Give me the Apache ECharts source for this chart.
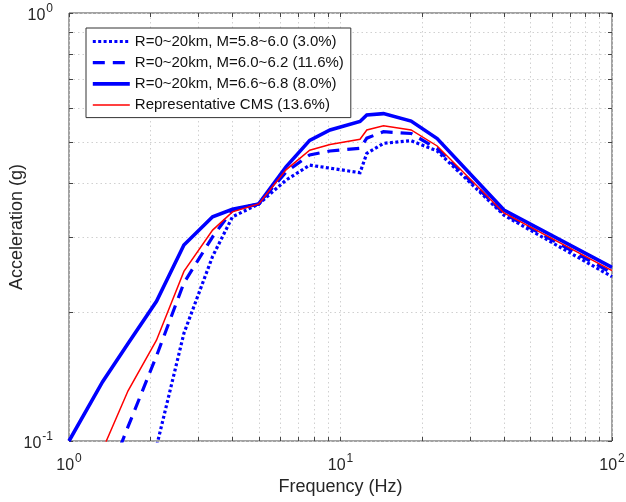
<!DOCTYPE html>
<html>
<head>
<meta charset="utf-8">
<script src="https://cdn.jsdelivr.net/npm/echarts@6/dist/echarts.min.js"></script>
<style>
  html, body { margin: 0; padding: 0; background: #fff; }
  #chart { width: 626px; height: 502px; }
</style>
</head>
<body>
<div id="chart"></div>
<script>
// Frequency (Hz) of each spectral ordinate
const frequency = [1.0, 1.33, 1.65, 2.1, 2.65, 3.38, 4.0, 5.0, 6.3, 7.7, 9.15, 11.8, 12.5, 14.4, 18.2, 22.7, 40, 100];

// Spectral acceleration (g) per magnitude bin, R = 0~20 km
const accM58 = [0.022, 0.035, 0.052, 0.097, 0.1785, 0.270, 0.334, 0.358, 0.407, 0.441, 0.434, 0.4235, 0.470, 0.496, 0.503, 0.476, 0.337, 0.242];
const accM60 = [0.048, 0.0765, 0.108, 0.158, 0.234, 0.300, 0.3465, 0.358, 0.425, 0.466, 0.476, 0.483, 0.510, 0.528, 0.523, 0.482, 0.340, 0.247];
const accM66 = [0.100, 0.1376, 0.169, 0.212, 0.287, 0.334, 0.348, 0.358, 0.437, 0.504, 0.533, 0.558, 0.578, 0.582, 0.559, 0.509, 0.3465, 0.2546];
const accCMS = [0.066, 0.0955, 0.131, 0.172, 0.249, 0.311, 0.343, 0.358, 0.430, 0.478, 0.493, 0.507, 0.533, 0.545, 0.533, 0.489, 0.341, 0.250];

const seriesNames = [
  'R=0~20km, M=5.8~6.0 (3.0%)',
  'R=0~20km, M=6.0~6.2 (11.6%)',
  'R=0~20km, M=6.6~6.8 (8.0%)',
  'Representative CMS (13.6%)'
];

// Tick positions (major + minor decades) and labelled decades
const xTickValues = [1, 2, 3, 4, 5, 6, 7, 8, 9, 10, 20, 30, 40, 50, 60, 70, 80, 90, 100];
const yTickValues = [0.1, 0.2, 0.3, 0.4, 0.5, 0.6, 0.7, 0.8, 0.9, 1];
const xLabelValues = [1, 10, 100];
const yLabelValues = [0.1, 1];

const FONT = "'Liberation Sans', Arial, sans-serif";
const TEXT_COLOR = '#262626';
const AXIS_COLOR = '#444';

function pairs(ys) {
  return frequency.map((f, i) => [f, ys[i]]);
}

// "10" with the decade exponent raised as a superscript
function powerLabel(v) {
  const e = Math.round(Math.log10(v));
  return '{b|10}{e|' + e + '}';
}

const labelRich = {
  b: { fontSize: 16, fontFamily: FONT, color: TEXT_COLOR, lineHeight: 21, verticalAlign: 'bottom' },
  e: { fontSize: 12, fontFamily: FONT, color: TEXT_COLOR, verticalAlign: 'top', padding: [0, 0, 0, 1] }
};

const gridLine = { show: true, lineStyle: { color: '#d0d0d0', width: 1, type: [1.5, 3] } };

function logXAxis(position, withLabels) {
  return {
    type: 'log', logBase: 10, min: 1, max: 100, position: position,
    name: withLabels ? 'Frequency (Hz)' : '',
    nameLocation: 'middle', nameGap: 37, nameMoveOverlap: false,
    nameTextStyle: { fontSize: 18, fontFamily: FONT, color: TEXT_COLOR },
    axisLine: { show: false },
    axisTick: { show: true, inside: true, length: 4, customValues: xTickValues, lineStyle: { color: AXIS_COLOR } },
    axisLabel: withLabels
      ? { show: true, customValues: xLabelValues, formatter: powerLabel, rich: labelRich, margin: 12 }
      : { show: false },
    splitLine: withLabels ? gridLine : { show: false }
  };
}

function logYAxis(position, withLabels) {
  return {
    type: 'log', logBase: 10, min: 0.1, max: 1, position: position,
    name: withLabels ? 'Acceleration (g)' : '',
    nameLocation: 'middle', nameGap: 43, nameMoveOverlap: false,
    nameTextStyle: { fontSize: 18, fontFamily: FONT, color: TEXT_COLOR },
    axisLine: { show: false },
    axisTick: { show: true, inside: true, length: 4, customValues: yTickValues, lineStyle: { color: AXIS_COLOR } },
    axisLabel: withLabels
      ? { show: true, customValues: yLabelValues, formatter: powerLabel, rich: labelRich, margin: 16, align: 'right' }
      : { show: false },
    splitLine: withLabels ? gridLine : { show: false }
  };
}

const styles = [
  { color: '#0000ff', width: 3.2, type: [3, 2.4] },
  { color: '#0000ff', width: 3.2, type: [12, 8] },
  { color: '#0000ff', width: 3.6, type: 'solid' },
  { color: '#ff0000', width: 1.5, type: 'solid' }
];
const values = [accM58, accM60, accM66, accCMS];

const chart = echarts.init(document.getElementById('chart'), null, { renderer: 'canvas' });
chart.setOption({
  backgroundColor: '#fff',
  animation: false,
  grid: {
    left: 69, right: 14, top: 13, bottom: 61,
    outerBoundsMode: 'none', containLabel: false,
    show: true, borderColor: AXIS_COLOR, borderWidth: 1, backgroundColor: 'transparent'
  },
  xAxis: [logXAxis('bottom', true), logXAxis('top', false)],
  yAxis: [logYAxis('left', true), logYAxis('right', false)],
  legend: {
    orient: 'vertical', left: 86, top: 28,
    padding: [6, 7, 5, 5],
    itemWidth: 37, itemHeight: 15, itemGap: 6.2,
    backgroundColor: '#fff', borderColor: '#333', borderWidth: 1, borderRadius: 0,
    textStyle: { fontSize: 15, fontFamily: FONT, color: '#111' },
    itemStyle: { opacity: 0 },
    lineStyle: { width: 'inherit', type: 'inherit' },
    data: seriesNames
  },
  series: seriesNames.map((name, i) => ({
    name: name,
    type: 'line',
    xAxisIndex: 0, yAxisIndex: 0,
    data: pairs(values[i]),
    symbol: 'none',
    clip: true,
    color: styles[i].color,
    lineStyle: { color: styles[i].color, width: styles[i].width, type: styles[i].type, cap: 'butt', join: 'miter' },
    z: 2 + i
  }))
});
</script>
</body>
</html>
